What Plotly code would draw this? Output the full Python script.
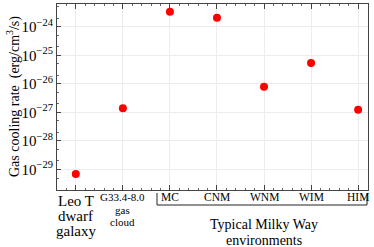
import plotly.graph_objects as go

categories = ["Leo T", "G33.4-8.0", "MC", "CNM", "WNM", "WIM", "HIM"]
cooling_rate = [7e-30, 1.4e-27, 3.4e-24, 2.1e-24, 8e-27, 5.4e-26, 1.25e-27]
y_tickvals = [1e-29, 1e-28, 1e-27, 1e-26, 1e-25, 1e-24]
y_ticktext = ["10<sup>−29</sup>", "10<sup>−28</sup>", "10<sup>−27</sup>",
              "10<sup>−26</sup>", "10<sup>−25</sup>", "10<sup>−24</sup>"]
leo_lines = ["Leo T", "dwarf", "galaxy"]
g33_lines = ["G33.4-8.0", "gas", "cloud"]
group_lines = ["Typical Milky Way", "environments"]

FONT = "Liberation Serif"
x_idx = list(range(len(categories)))

# plot area geometry (pixels) used to place labels below the axis
TOP, BOTTOM, LEFT, RIGHT = 4, 190, 57, 368
def py(p):
    return (BOTTOM - p) / (BOTTOM - TOP)
def px(p):
    return (p - LEFT) / (RIGHT - LEFT)

fig = go.Figure()
fig.add_trace(go.Scatter(
    x=x_idx, y=cooling_rate, mode="markers",
    marker=dict(color="#ff0000", size=8, line=dict(width=0)),
    showlegend=False, cliponaxis=False, hoverinfo="skip",
))

fig.update_layout(
    width=374, height=247,
    margin=dict(l=LEFT, r=374 - RIGHT, t=TOP, b=247 - BOTTOM, autoexpand=False),
    paper_bgcolor="white", plot_bgcolor="white",
    font=dict(family=FONT, color="black", size=12),
)

fig.update_xaxes(
    range=[-0.4, 6.21], automargin=False,
    tickvals=x_idx, showticklabels=False,
    ticks="inside", ticklen=5, tickcolor="#444", tickwidth=1,
    showline=True, linecolor="#444", linewidth=1, mirror="ticks",
    showgrid=True, gridcolor="#ececec", gridwidth=1, zeroline=False,
    minor=dict(dtick=0.2, tick0=0, ticks="inside", ticklen=2, tickcolor="#666", showgrid=False),
)
fig.update_yaxes(
    type="log", range=[-29.72, -23.2], automargin=False,
    tickvals=y_tickvals, ticktext=y_ticktext,
    tickfont=dict(size=15, family=FONT),
    ticks="inside", ticklen=4, tickcolor="#444",
    showline=True, linecolor="#444", linewidth=1, mirror=True,
    showgrid=True, gridcolor="#ececec", gridwidth=1, zeroline=False,
    minor=dict(ticks="inside", ticklen=2, tickcolor="#666", showgrid=False),
)

# y-axis title
fig.add_annotation(x=px(13), y=0.5, xref="paper", yref="paper",
                   xanchor="center", yanchor="middle", textangle=-90,
                   text="Gas cooling rate  (erg/cm<sup>3</sup>/s)", showarrow=False,
                   font=dict(size=14, family=FONT))

# category labels
for line, yc in zip(leo_lines, [201, 216, 231]):
    fig.add_annotation(x=0, y=py(yc), xref="x", yref="paper", yanchor="middle",
                       text=line, showarrow=False, font=dict(size=15, family=FONT))
for line, yc in zip(g33_lines, [197, 210, 222]):
    fig.add_annotation(x=1, y=py(yc), xref="x", yref="paper", yanchor="middle",
                       text=line, showarrow=False, font=dict(size=11, family=FONT))
for i in range(2, len(categories)):
    fig.add_annotation(x=i, y=py(197), xref="x", yref="paper", yanchor="middle",
                       text=categories[i], showarrow=False,
                       font=dict(size=11.5, family=FONT))

# bracket
x0, x1, ya, yb = px(157), px(367), py(193), py(205)
fig.add_shape(type="path", xref="paper", yref="paper",
              path=f"M {x0} {ya} L {x0} {yb} L {x1} {yb} L {x1} {ya}",
              line=dict(color="#222", width=1))
for line, yc in zip(group_lines, [224, 240]):
    fig.add_annotation(x=4.0, y=py(yc), xref="x", yref="paper", yanchor="middle",
                       text=line, showarrow=False, font=dict(size=14, family=FONT))

fig.write_html("out.html", config={"displayModeBar": False},
               post_script="document.body.style.margin='0px';")
